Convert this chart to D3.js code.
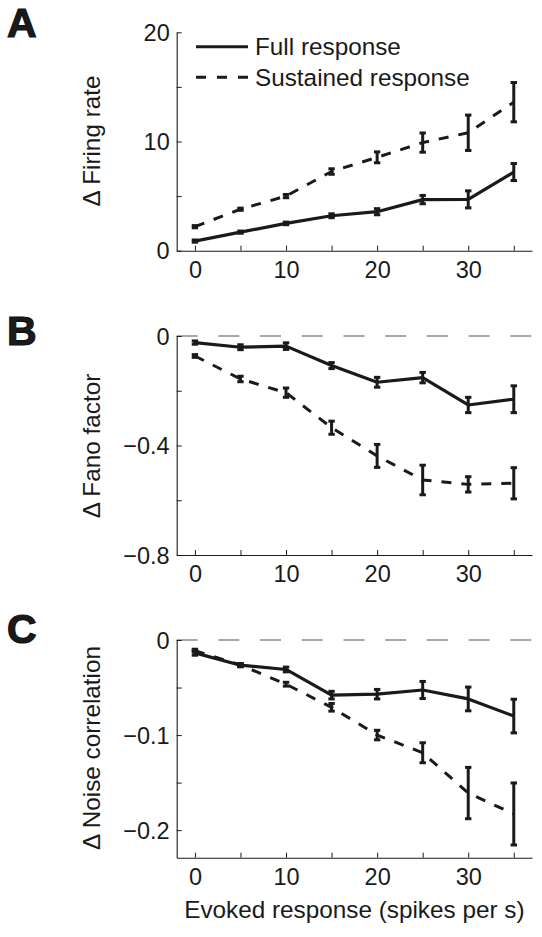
<!DOCTYPE html>
<html>
<head>
<meta charset="utf-8">
<script src="https://cdn.jsdelivr.net/npm/d3@7/dist/d3.min.js"></script>
<style>
  html, body { margin: 0; padding: 0; background: #fff; }
  svg { display: block; }
  text { font-family: "Liberation Sans", Arial, Helvetica, sans-serif; fill: #1a1a1a; }
</style>
</head>
<body>
<svg id="chart" width="542" height="937"></svg>
<script>
// ---- data ----
const xValues = [0, 5, 10, 15, 20, 25, 30, 35];
const xTicks = [0, 5, 10, 15, 20, 25, 30, 35];
const xTickLabels = ["0", "", "10", "", "20", "", "30", ""];
const seriesNames = ["Full response", "Sustained response"];

const rateFull = [0.88, 1.7, 2.5, 3.2, 3.57, 4.68, 4.7, 7.2];
const rateFullErr = [0.1, 0.1, 0.12, 0.18, 0.28, 0.38, 0.78, 0.78];
const rateSust = [2.2, 3.8, 5.0, 7.25, 8.55, 9.9, 10.8, 13.6];
const rateSustErr = [0.1, 0.1, 0.15, 0.25, 0.5, 0.88, 1.62, 1.8];
const rateTicks = [0, 5, 10, 15, 20];
const rateTickLabels = ["0", "", "10", "", "20"];

const fanoFull = [-0.024, -0.041, -0.037, -0.108, -0.169, -0.152, -0.252, -0.231];
const fanoFullErr = [0.006, 0.009, 0.012, 0.011, 0.018, 0.019, 0.028, 0.049];
const fanoSust = [-0.073, -0.157, -0.207, -0.335, -0.438, -0.526, -0.542, -0.538];
const fanoSustErr = [0.005, 0.01, 0.017, 0.024, 0.042, 0.054, 0.028, 0.057];
const fanoTicks = [-0.8, -0.6, -0.4, -0.2, 0];
const fanoTickLabels = ["\u22120.8", "", "\u22120.4", "", "0"];

const noiseFull = [-0.0135, -0.0265, -0.031, -0.058, -0.057, -0.0526, -0.062, -0.08];
const noiseFullErr = [0.0025, 0.0017, 0.0025, 0.004, 0.005, 0.009, 0.0125, 0.0177];
const noiseSust = [-0.0112, -0.0263, -0.0465, -0.0708, -0.100, -0.1186, -0.161, -0.183];
const noiseSustErr = [0.0015, 0.0015, 0.002, 0.004, 0.005, 0.0105, 0.027, 0.0326];
const noiseTicks = [-0.2, -0.15, -0.1, -0.05, 0];
const noiseTickLabels = ["\u22120.2", "", "\u22120.1", "", "0"];

const yLabels = ["\u0394 Firing rate", "\u0394 Fano factor", "\u0394 Noise correlation"];
const panelLetters = ["A", "B", "C"];
const xLabel = "Evoked response (spikes per s)";

// ---- layout ----
const svg = d3.select("#chart");
const ink = "#1a1a1a";
const xLeft = 176.7, xRight = 532;
const x = d3.scaleLinear().domain([-2, 37]).range([xLeft, xRight]);

const panels = [
  { letter: panelLetters[0], label: yLabels[0], top: 32.3, bottom: 250.7, domain: [0, 20],
    ticks: rateTicks, tickLabels: rateTickLabels, full: rateFull, fullErr: rateFullErr,
    sust: rateSust, sustErr: rateSustErr, zero: false, letterY: 37, labelY: 141, legend: true },
  { letter: panelLetters[1], label: yLabels[1], top: 336, bottom: 555, domain: [-0.8, 0],
    ticks: fanoTicks, tickLabels: fanoTickLabels, full: fanoFull, fullErr: fanoFullErr,
    sust: fanoSust, sustErr: fanoSustErr, zero: true, letterY: 345, labelY: 446, legend: false },
  { letter: panelLetters[2], label: yLabels[2], top: 640, bottom: 857.7, domain: [-0.229, 0],
    ticks: noiseTicks, tickLabels: noiseTickLabels, full: noiseFull, fullErr: noiseFullErr,
    sust: noiseSust, sustErr: noiseSustErr, zero: true, letterY: 643, labelY: 748, legend: false, xLabel: true }
];

const tickFont = 23.5, labelFont = 24.3;

panels.forEach(p => {
  const y = d3.scaleLinear().domain(p.domain).range([p.bottom, p.top]);
  const g = svg.append("g");

  // zero reference line
  if (p.zero) {
    g.append("line")
      .attr("x1", xLeft).attr("x2", xRight)
      .attr("y1", y(0)).attr("y2", y(0))
      .attr("stroke", "#8a8a8a").attr("stroke-width", 1.3)
      .attr("stroke-dasharray", "21,20.7");
  }

  // axes
  const yAxis = d3.axisLeft(y).tickValues(p.ticks)
    .tickFormat((d, i) => p.tickLabels[i])
    .tickSizeInner(-5).tickSizeOuter(0).tickPadding(7);
  const ya = g.append("g").attr("transform", `translate(${xLeft},0)`).call(yAxis);
  const xAxis = d3.axisBottom(x).tickValues(xTicks)
    .tickFormat((d, i) => xTickLabels[i])
    .tickSizeInner(-5).tickSizeOuter(0).tickPadding(10);
  const xa = g.append("g").attr("transform", `translate(0,${p.bottom})`).call(xAxis);
  [ya, xa].forEach(a => {
    a.select(".domain").attr("stroke", ink).attr("stroke-width", 1.1);
    a.selectAll(".tick line").attr("stroke", ink).attr("stroke-width", 1);
    a.selectAll(".tick text").attr("fill", ink)
      .style("font-size", tickFont + "px")
      .style("font-family", '"Liberation Sans", Arial, Helvetica, sans-serif');
  });
  ya.selectAll(".tick text").attr("dy", "0.35em");
  xa.selectAll(".tick text").attr("dy", "0.72em");

  // lines
  const line = d3.line().x((d, i) => x(xValues[i])).y(d => y(d));
  g.append("path").datum(p.sust).attr("d", line)
    .attr("fill", "none").attr("stroke", ink).attr("stroke-width", 3)
    .attr("stroke-dasharray", "10,10");
  g.append("path").datum(p.full).attr("d", line)
    .attr("fill", "none").attr("stroke", ink).attr("stroke-width", 3.2)
    .attr("stroke-linejoin", "round");

  // error bars
  const drawErr = (vals, errs) => {
    const eb = g.append("g").attr("stroke", ink).attr("stroke-width", 3);
    vals.forEach((v, i) => {
      const cx = x(xValues[i]);
      const y1 = y(v + errs[i]), y2 = y(v - errs[i]);
      eb.append("line").attr("x1", cx).attr("x2", cx).attr("y1", y1).attr("y2", y2);
      eb.append("line").attr("x1", cx - 3.2).attr("x2", cx + 3.2).attr("y1", y1).attr("y2", y1);
      eb.append("line").attr("x1", cx - 3.2).attr("x2", cx + 3.2).attr("y1", y2).attr("y2", y2);
    });
  };
  drawErr(p.sust, p.sustErr);
  drawErr(p.full, p.fullErr);

  // panel letter
  svg.append("text").attr("x", 7).attr("y", p.letterY)
    .style("font-size", "41px").style("font-weight", "bold")
    .attr("fill", "#111").attr("stroke", "#111").attr("stroke-width", 1.2)
    .text(p.letter);

  // y label
  svg.append("text")
    .attr("transform", `translate(100,${p.labelY}) rotate(-90)`)
    .attr("text-anchor", "middle")
    .style("font-size", labelFont + "px")
    .text(p.label);

  if (p.xLabel) {
    svg.append("text").attr("x", (xLeft + xRight) / 2).attr("y", 918)
      .attr("text-anchor", "middle").style("font-size", labelFont + "px")
      .text(xLabel);
  }

  if (p.legend) {
    const lg = svg.append("g");
    const rows = [{ name: seriesNames[0], dash: null, ly: 46.7, ty: 55 },
                  { name: seriesNames[1], dash: "10,11", ly: 77.3, ty: 85.5 }];
    rows.forEach(r => {
      lg.append("line").attr("x1", 196).attr("x2", 248).attr("y1", r.ly).attr("y2", r.ly)
        .attr("stroke", ink).attr("stroke-width", 3)
        .attr("stroke-dasharray", r.dash);
      lg.append("text").attr("x", 255).attr("y", r.ty)
        .style("font-size", labelFont + "px").text(r.name);
    });
  }
});
</script>
</body>
</html>
